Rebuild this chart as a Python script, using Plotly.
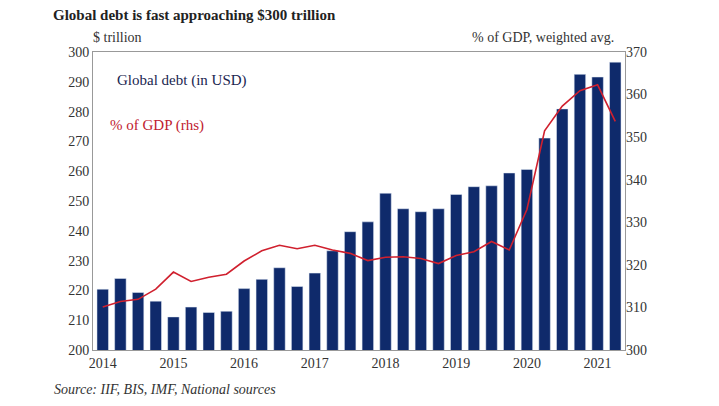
import plotly.graph_objects as go

quarters = list(range(30))
year_ticks = [0, 4, 8, 12, 16, 20, 24, 28]
year_labels = ["2014", "2015", "2016", "2017", "2018", "2019", "2020", "2021"]

debt_usd = [220.4, 224.0, 219.3, 216.4, 211.1, 214.4, 212.6, 213.0, 220.6, 223.7,
            227.6, 221.3, 225.8, 233.3, 239.7, 243.0, 252.6, 247.4, 246.4, 247.4,
            252.2, 254.8, 255.1, 259.4, 260.6, 271.1, 280.9, 292.5, 291.6, 296.6]
debt_gdp = [310.1, 311.4, 311.9, 314.3, 318.3, 316.1, 317.1, 317.8, 320.9, 323.3,
            324.6, 323.8, 324.6, 323.5, 322.7, 321.0, 321.8, 321.9, 321.5, 320.3,
            322.2, 323.1, 325.5, 323.5, 333.0, 351.5, 357.3, 360.9, 362.3, 353.7]

font = "Liberation Serif"
fig = go.Figure()
fig.add_trace(go.Bar(x=quarters, y=debt_usd, marker_color="#0f2a6b", width=0.65,
                     name="Global debt (in USD)"))
fig.add_trace(go.Scatter(x=quarters, y=debt_gdp, yaxis="y2", mode="lines",
                         line=dict(color="#d0202e", width=1.6), name="% of GDP (rhs)"))

fig.update_layout(
    width=719, height=406, margin=dict(l=85, r=102, t=44, b=64),
    plot_bgcolor="white", paper_bgcolor="white", showlegend=False,
    font=dict(family=font, size=14, color="#333333"),
    xaxis=dict(range=[-0.55, 29.55], tickvals=year_ticks, ticktext=year_labels,
               showline=True, linecolor="#999999", mirror=True, ticks="", showgrid=False),
    yaxis=dict(range=[200, 300], dtick=10, showline=True, linecolor="#999999",
               mirror=True, showgrid=False, ticks=""),
    yaxis2=dict(range=[300, 370], dtick=10, overlaying="y", side="right",
                showgrid=False, ticks="", showline=False),
    annotations=[
        dict(text="<b>Global debt is fast approaching $300 trillion</b>", xref="paper", yref="paper",
             x=-0.079, y=1.125, xanchor="left", yanchor="middle", showarrow=False,
             font=dict(size=15, color="#222222")),
        dict(text="$ trillion", xref="paper", yref="paper", x=-0.004, y=1.05,
             xanchor="left", yanchor="middle", showarrow=False, font=dict(size=14)),
        dict(text="% of GDP, weighted avg.", xref="paper", yref="paper", x=0.983, y=1.05,
             xanchor="right", yanchor="middle", showarrow=False, font=dict(size=14)),
        dict(text="Global debt (in USD)", xref="paper", yref="paper", x=0.041, y=0.906,
             xanchor="left", yanchor="middle", showarrow=False,
             font=dict(size=15, color="#1a2550")),
        dict(text="% of GDP (rhs)", xref="paper", yref="paper", x=0.028, y=0.755,
             xanchor="left", yanchor="middle", showarrow=False,
             font=dict(size=15, color="#c0202e")),
        dict(text="<i>Source: IIF, BIS, IMF, National sources</i>", xref="paper", yref="paper",
             x=-0.077, y=-0.134, xanchor="left", yanchor="middle", showarrow=False,
             font=dict(size=14, color="#333333")),
    ],
)

fig.write_html("out.html")
